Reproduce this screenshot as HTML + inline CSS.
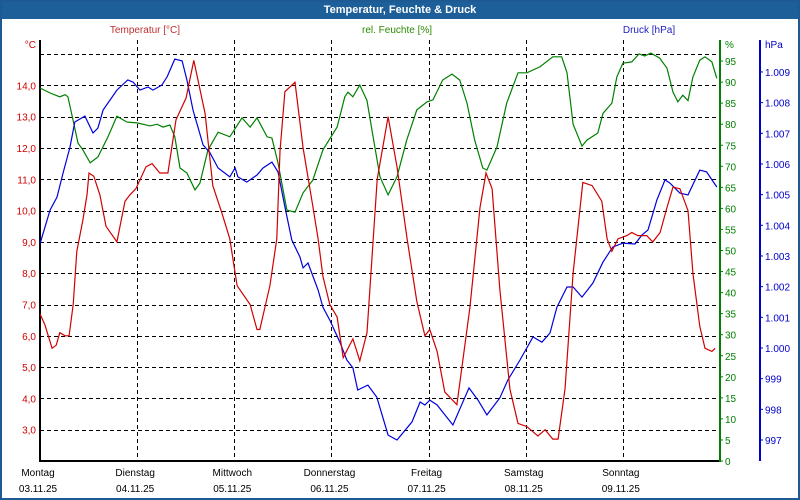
<!DOCTYPE html>
<html><head><meta charset="utf-8">
<style>
html,body{margin:0;padding:0;background:#fff;}
#frame{position:absolute;left:0;top:0;width:796px;height:496px;border:2px solid #1d5a93;overflow:hidden;background:#fff;font-family:"Liberation Sans","DejaVu Sans",sans-serif;}
#title{position:absolute;left:0;top:0;width:796px;height:17px;background:#1d5f99;color:#fff;font-weight:bold;font-size:11px;text-align:center;line-height:17px;}
svg{position:absolute;left:0;top:0;}
</style></head>
<body>
<div id="frame">
<div id="title">Temperatur, Feuchte &amp; Druck</div>
</div>
<svg id="chart" width="800" height="500" font-family="Liberation Sans, DejaVu Sans, sans-serif" font-size="10"></svg>
<script>
const dayNames=["Montag","Dienstag","Mittwoch","Donnerstag","Freitag","Samstag","Sonntag"];
const dayDates=["03.11.25","04.11.25","05.11.25","06.11.25","07.11.25","08.11.25","09.11.25"];
const tempTicks=[3,4,5,6,7,8,9,10,11,12,13,14,15];
const humTicks=[0,5,10,15,20,25,30,35,40,45,50,55,60,65,70,75,80,85,90,95];
const presTicks=[997,998,999,1000,1001,1002,1003,1004,1005,1006,1007,1008,1009];
const tempHours=[0,1.2,3,4,4.9,6.2,7.2,8.2,9.1,10.6,11.6,12.1,13.3,14.8,16.3,19,21,22.2,23.7,26.2,27.7,29.6,31.6,33.6,36.1,38,40.8,42.7,45,46.9,48.7,51.9,53.6,54.3,56.8,58.5,59.3,60.5,63,65,67.2,68.7,69.9,71.6,73.4,74.9,77.3,79,80.8,83.3,86,88.2,90.7,93.1,95.1,96.3,98.1,100,103,106.2,108.7,110.2,111.7,113.6,116.1,118.1,120.3,123,124.8,126.7,128,129.7,131.7,134.1,136.4,138.8,140.1,141.3,142.8,145,146.2,147.7,149.9,151.4,153.2,154.9,156.4,158.1,160.1,161.3,163,164.3,166,166.8];
const tempValues=[6.7,6.35,5.6,5.7,6.1,6.0,6.0,7.0,8.7,9.7,10.5,11.2,11.1,10.5,9.5,9.0,10.3,10.5,10.7,11.4,11.5,11.2,11.2,12.9,13.6,14.8,13.1,10.8,9.9,9.1,7.6,7.0,6.2,6.2,7.6,9.1,11.9,13.8,14.1,12.0,10.3,9.1,7.9,7.0,6.6,5.3,5.9,5.2,6.1,11.0,13.0,11.4,9.1,7.1,6.0,6.2,5.5,4.2,3.8,6.9,10.1,11.2,10.7,7.5,4.3,3.2,3.1,2.8,3.0,2.7,2.7,4.3,8.0,10.9,10.8,10.3,9.1,8.7,9.1,9.2,9.3,9.2,9.2,9.0,9.3,10.1,10.75,10.7,10.0,8.0,6.3,5.6,5.5,5.6];
const humHours=[0,2.5,4.9,6.2,6.9,8.2,9.4,10.6,12.4,14.3,16.8,19,21.5,24,27.2,28.9,30.4,32.1,33.3,34.6,36.3,38.3,39.5,41.5,44,46.9,49.9,51.9,53.6,56.1,57.3,58.8,61,63,65,67.4,69.9,73.4,75.3,76.1,77.3,79,80.8,82.3,84,86,88.2,90.6,93.1,95.6,97.1,99.5,101.8,103.7,105.5,107.4,109.4,110.4,112.9,115.3,118.1,120.3,123.5,126.7,128.9,130.2,131.7,133.9,135.1,137.8,139.1,141.3,142.5,144,146.2,148,149.4,150.9,153.1,154.9,156.4,157.6,158.8,160.1,161.3,163,164.3,166,167.2];
const humValues=[88.6,87.4,86.5,87,86.5,80.8,75.5,73.9,70.8,72.2,77,81.9,80.5,80.3,79.6,80,79.3,79.8,77,69.6,68.4,64.4,66,73.9,78.1,77,81.5,79.3,81.5,77,76.7,70.8,59.6,59.1,63.7,66.7,73.9,79.3,86.5,87.6,86.5,89.3,85.6,77,67.5,63.2,67.5,76.2,83.4,85.3,85.8,90.5,91.9,90.5,85,76.2,69.6,69.1,74.6,85,92.2,92.2,93.6,96,96,92.2,80,74.8,76.2,77.9,82.6,85,91.2,94.5,94.8,96.7,96.2,96.9,95.7,93.3,87.6,85.3,86.9,85.6,91.2,95.2,96,94.8,90.9];
const presHours=[0,2.5,4.2,5.7,7.4,8.6,11.1,13.1,14.3,15.6,19,21.7,23,24.7,26.7,27.9,30.1,31.4,33.3,35.1,36.3,37.8,40.3,42,44,46.9,48.2,48.9,51.1,53.6,55.1,57.3,58.8,60.5,62.2,64.2,65,66.2,68.7,69.9,71.6,74.1,75.8,77.3,78.5,81,83.2,86,88.2,91.9,93.9,95.1,96.3,98.1,102,106,108.2,110.4,113.6,115.6,118.6,121.8,124,126,127.7,130.2,131.7,133.9,136.6,139.1,141.5,144,147,148.7,150.2,152.4,154.4,155.6,158.1,160.1,163,164.7,167.2];
const presValues=[1003.4,1004.5,1004.92,1005.71,1006.55,1007.37,1007.56,1007.01,1007.17,1007.76,1008.41,1008.74,1008.67,1008.41,1008.51,1008.41,1008.57,1008.84,1009.42,1009.36,1008.74,1007.76,1006.62,1006.36,1005.87,1005.58,1005.87,1005.58,1005.41,1005.64,1005.87,1006.06,1005.74,1004.6,1003.52,1002.97,1002.61,1002.77,1001.89,1001.33,1000.91,1000.19,999.61,999.35,998.63,998.79,998.4,997.16,997,997.59,998.24,998.14,998.3,998.14,997.49,998.7,998.3,997.82,998.37,998.96,999.61,1000.36,1000.19,1000.49,1001.33,1001.99,1001.99,1001.66,1002.12,1002.8,1003.29,1003.42,1003.39,1003.68,1003.85,1004.83,1005.48,1005.38,1005.05,1004.99,1005.8,1005.74,1005.25];

const L=40,R=720,T=40,B=461;
const NS="http://www.w3.org/2000/svg";
const svg=document.getElementById('chart');
const xOf=h=>L+h*(R-L)/168;
const yT=v=>B-(v-2)*31.3;
const yH=v=>B-v*(B-T)/100;
const yP=v=>440-(v-997)*30.67;
function mk(tag,attrs,parent){const e=document.createElementNS(NS,tag);for(const k in attrs)e.setAttribute(k,attrs[k]);(parent||svg).appendChild(e);return e;}
function txt(x,y,s,fill,anchor){const t=mk('text',{x:x,y:y,fill:fill,'text-anchor':anchor||'start'});t.textContent=s;return t;}

tempTicks.forEach(v=>{
  const l=mk('line',{x1:L,x2:R,y1:Math.round(yT(v))+0.5,y2:Math.round(yT(v))+0.5,stroke:'#000','stroke-dasharray':'4,3','stroke-width':1});
  
  
});
for(let d=1;d<=7;d++){
  const gx=Math.round(xOf(d*24))+0.5;
  const l=mk('line',{x1:gx,x2:gx,y1:T,y2:B,stroke:'#000','stroke-dasharray':'4,3','stroke-width':1});
  
  
}
let a=mk('line',{x1:L,x2:L,y1:T,y2:B+1,stroke:'#000','stroke-width':2});


a=mk('line',{x1:L,x2:R,y1:B,y2:B,stroke:'#000','stroke-width':2});


a=mk('line',{x1:R,x2:R,y1:T,y2:B+1,stroke:'#008000','stroke-width':2});


a=mk('line',{x1:760,x2:760,y1:T,y2:B,stroke:'#0000cc','stroke-width':2});



tempTicks.slice(0,12).forEach(v=>{
  const t=txt(36,yT(v)+4,v.toFixed(1).replace('.',','),'#d00000','end');
  
  
});
let u=txt(36,48,'°C','#d00000','end');


humTicks.forEach(v=>{
  mk('line',{x1:R,x2:R+3,y1:yH(v),y2:yH(v),stroke:'#008000'});
  const t=txt(725,yH(v)+4,String(v),'#008000');
  
  
});
u=txt(725,48,'%','#008000');


presTicks.forEach(v=>{
  mk('line',{x1:760,x2:763,y1:yP(v),y2:yP(v),stroke:'#0000cc'});
  const s=v>=1000?('1.'+String(v-1000).padStart(3,'0')):String(v);
  const t=txt(765,yP(v)+4,s,'#0000cc');
  
  
});
u=txt(765,48,'hPa','#0000cc');


u=txt(145,33,'Temperatur [°C]','#c03030','middle');


u=txt(397,33,'rel. Feuchte [%]','#2a8a00','middle');


u=txt(649,33,'Druck [hPa]','#2020c0','middle');


dayNames.forEach((n,i)=>{
  const cx=xOf(i*24)-2;
  const t1=txt(cx,476,n,'#000','middle');
  
  
  const t2=txt(cx,492,dayDates[i],'#000','middle');
  
  
});
function line(hours,vals,yf,color,name){
  const p=hours.map((h,i)=>xOf(h).toFixed(1)+','+yf(vals[i]).toFixed(1)).join(' ');
  const e=mk('polyline',{points:p,fill:'none',stroke:color,'stroke-width':1.2});
  
  
}
line(humHours,humValues,yH,'#008000','humidity-line');
line(presHours,presValues,yP,'#0000dd','pressure-line');
line(tempHours,tempValues,yT,'#d00000','temperature-line');
</script>
</body></html>
